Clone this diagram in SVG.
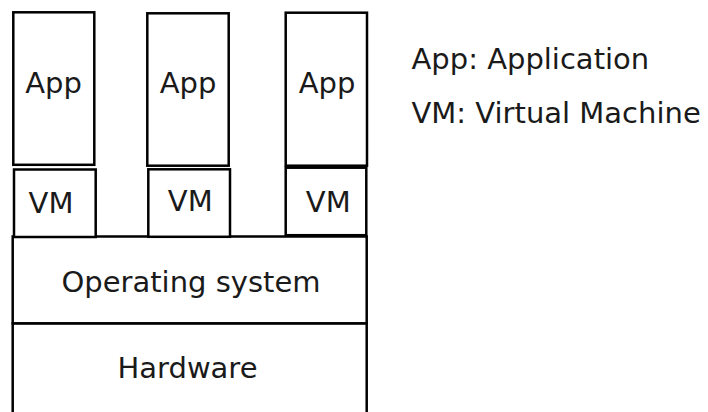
<svg xmlns="http://www.w3.org/2000/svg" width="708" height="412" viewBox="0 0 708 412">
  <style>
    .box { fill: #ffffff; stroke: #000000; stroke-width: 2.5; }
    .lbl { font-family: "DejaVu Sans", "Liberation Sans", sans-serif; font-size: 29px; fill: #1a1a1a; }
    .mid { text-anchor: middle; }
  </style>
  <rect width="708" height="412" fill="#ffffff"/>

  <!-- hardware layer (runs off the bottom edge) -->
  <g id="hardware">
    <rect class="box" x="12.7" y="323.3" width="354" height="110"/>
    <text class="lbl mid" x="187.5" y="377.7">Hardware</text>
  </g>

  <!-- operating system layer -->
  <g id="os">
    <rect class="box" x="12.7" y="236.5" width="354" height="86.8"/>
    <text class="lbl mid" x="191" y="291.7">Operating system</text>
  </g>

  <!-- stack 1 -->
  <g id="vm1">
    <rect class="box" x="14" y="169.5" width="81.7" height="67.5"/>
    <text class="lbl mid" x="51" y="213.3">VM</text>
  </g>
  <g id="app1">
    <rect class="box" x="13.3" y="12.3" width="81" height="152.5"/>
    <text class="lbl mid" x="53.5" y="92.7">App</text>
  </g>

  <!-- stack 2 -->
  <g id="vm2">
    <rect class="box" x="148.3" y="169.3" width="81.7" height="67.5"/>
    <text class="lbl mid" x="190.3" y="210.5">VM</text>
  </g>
  <g id="app2">
    <rect class="box" x="147.3" y="13.3" width="81.4" height="152.4"/>
    <text class="lbl mid" x="188" y="92.7">App</text>
  </g>

  <!-- stack 3 -->
  <g id="vm3">
    <rect class="box" x="285.7" y="167.7" width="80.6" height="67.5"/>
    <text class="lbl mid" x="328.3" y="211.7">VM</text>
  </g>
  <g id="app3">
    <rect class="box" x="285.7" y="12.7" width="81.3" height="153"/>
    <text class="lbl mid" x="327" y="92.7">App</text>
  </g>

  <!-- legend -->
  <g id="legend">
    <text class="lbl" x="411.5" y="69.3">App: Application</text>
    <text class="lbl" x="411.5" y="122.7">VM: Virtual Machine</text>
  </g>

  <g id="connectors"/>
</svg>
